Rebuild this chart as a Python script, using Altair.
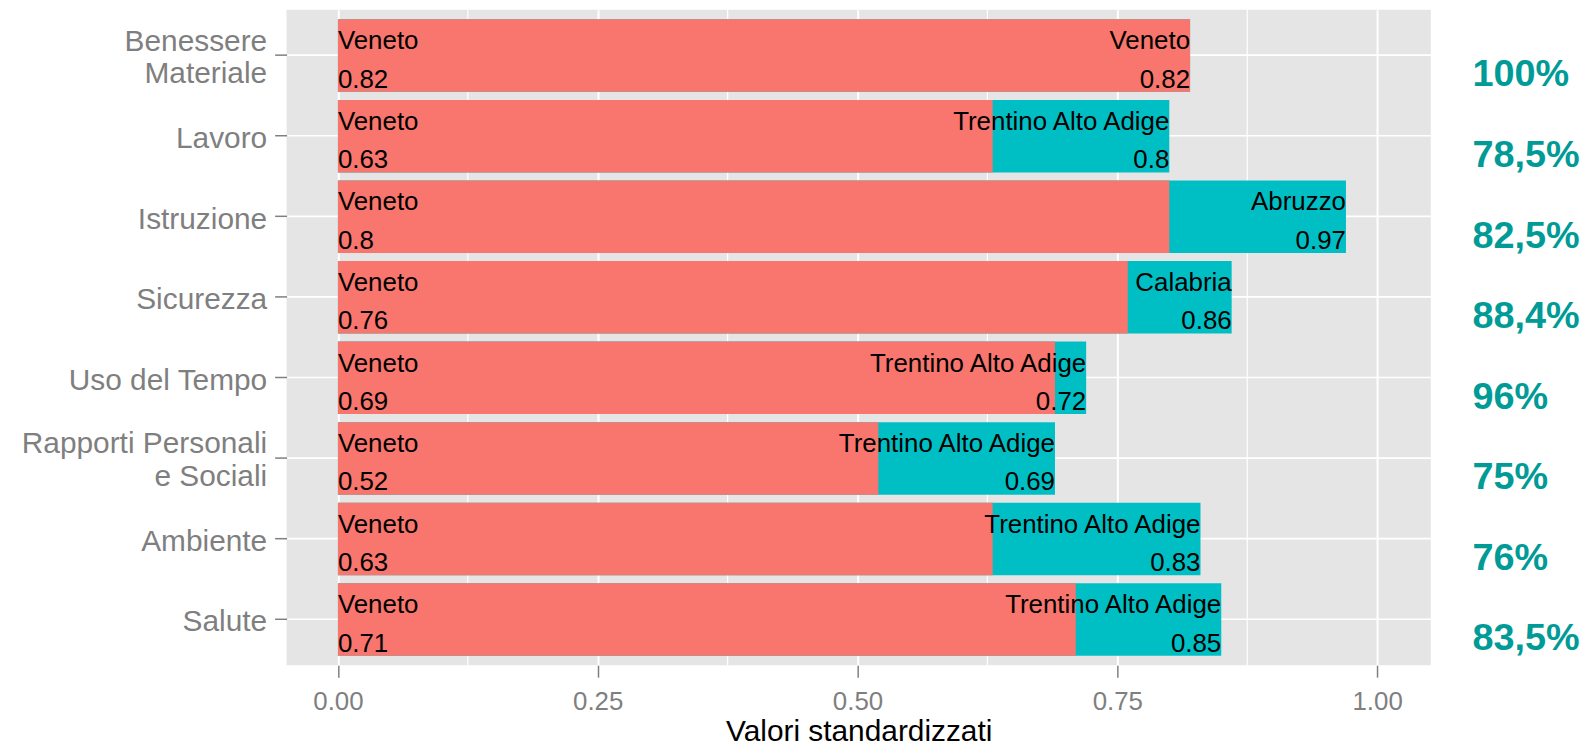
import altair as alt
import pandas as pd

categories = ["Benessere\nMateriale", "Lavoro", "Istruzione", "Sicurezza",
              "Uso del Tempo", "Rapporti Personali\ne Sociali", "Ambiente", "Salute"]
veneto_values = [0.82, 0.63, 0.8, 0.76, 0.69, 0.52, 0.63, 0.71]
best_regions = ["Veneto", "Trentino Alto Adige", "Abruzzo", "Calabria",
                "Trentino Alto Adige", "Trentino Alto Adige", "Trentino Alto Adige",
                "Trentino Alto Adige"]
best_values = [0.82, 0.8, 0.97, 0.86, 0.72, 0.69, 0.83, 0.85]
percent_labels = ["100%", "78,5%", "82,5%", "88,4%", "96%", "75%", "76%", "83,5%"]
x_ticks = [0, 0.25, 0.5, 0.75, 1.0]
x_minor_ticks = [0.125, 0.375, 0.625, 0.875]

df = pd.DataFrame({
    "cat": categories,
    "veneto": veneto_values,
    "veneto_lab": [str(v) for v in veneto_values],
    "best_region": best_regions,
    "best": best_values,
    "best_lab": [str(v) for v in best_values],
    "pct": percent_labels,
    "veneto_name": ["Veneto"] * len(categories),
})
minor_df = pd.DataFrame({"m": x_minor_ticks})

FONT = "Liberation Sans"
GREY = "#7F7F7F"

xscale = alt.Scale(domain=[-0.0494, 1.0516], nice=False, zero=False)
yscale = alt.Scale(paddingInner=0.1, paddingOuter=0.118)

y_axis = alt.Axis(title=None, labelFontSize=30, labelColor=GREY,
                  labelExpr="split(datum.label, '\\n')", labelLimit=500,
                  labelLineHeight=33, labelPadding=8,
                  labelOffset={"condition": {"test": "indexof(datum.value, '\\n') >= 0",
                                             "value": -14}, "value": 3},
                  tickSize=12, tickColor=GREY, tickWidth=1.5,
                  domain=False, grid=True, gridColor="white",
                  gridWidth=1.7, labelFont=FONT)

x_axis = alt.Axis(values=x_ticks, format=".2f", labelFontSize=26, labelColor=GREY,
                  labelPadding=11, tickSize=12, tickColor=GREY, tickWidth=1.5,
                  domain=False, grid=True, gridColor="white", gridWidth=2,
                  title="Valori standardizzati", titleFontSize=30,
                  titleColor="black", titleFontWeight="normal",
                  titleBaseline="alphabetic", titleY=76,
                  labelFont=FONT, titleFont=FONT)


def Y():
    return alt.Y("cat:N", sort=categories, scale=yscale, axis=y_axis)


def X(field):
    return alt.X(field, scale=xscale, axis=x_axis)


minor = alt.Chart(minor_df).mark_rule(color="white", strokeWidth=1.2).encode(
    x=X("m:Q")
)

base = alt.Chart(df)

best_bar = base.mark_bar(color="#00BFC4").encode(
    x=X("best:Q"), x2=alt.datum(0), y=Y())
ven_bar = base.mark_bar(color="#F8766D").encode(
    x=X("veneto:Q"), x2=alt.datum(0), y=Y())

txt_kw = dict(font=FONT, fontSize=26, color="black", baseline="alphabetic")
ven_name = base.mark_text(align="left", dy=-6.3, **txt_kw).encode(
    x=alt.datum(0), y=Y(), text="veneto_name:N")
ven_val = base.mark_text(align="left", dy=32.2, **txt_kw).encode(
    x=alt.datum(0), y=Y(), text="veneto_lab:N")
best_name = base.mark_text(align="right", dy=-6.3, **txt_kw).encode(
    x=X("best:Q"), y=Y(), text="best_region:N")
best_val = base.mark_text(align="right", dy=32.2, **txt_kw).encode(
    x=X("best:Q"), y=Y(), text="best_lab:N")

pct = base.mark_text(align="left", baseline="middle", dy=20, font=FONT,
                     fontSize=38, fontWeight="bold", color="#009B96").encode(
    x=alt.value(1192), y=Y(), text="pct:N")

chart = alt.layer(minor, best_bar, ven_bar, ven_name, ven_val, best_name, best_val, pct).properties(
    width=1150, height=658.7,
    autosize=alt.AutoSizeParams(type="none"),
    padding={"left": 280, "top": 0, "right": 152, "bottom": 83},
).configure(font=FONT).configure_view(fill="#E5E5E5", strokeWidth=0)

chart.save("out.html", embed_options={"renderer": "svg", "actions": False})
